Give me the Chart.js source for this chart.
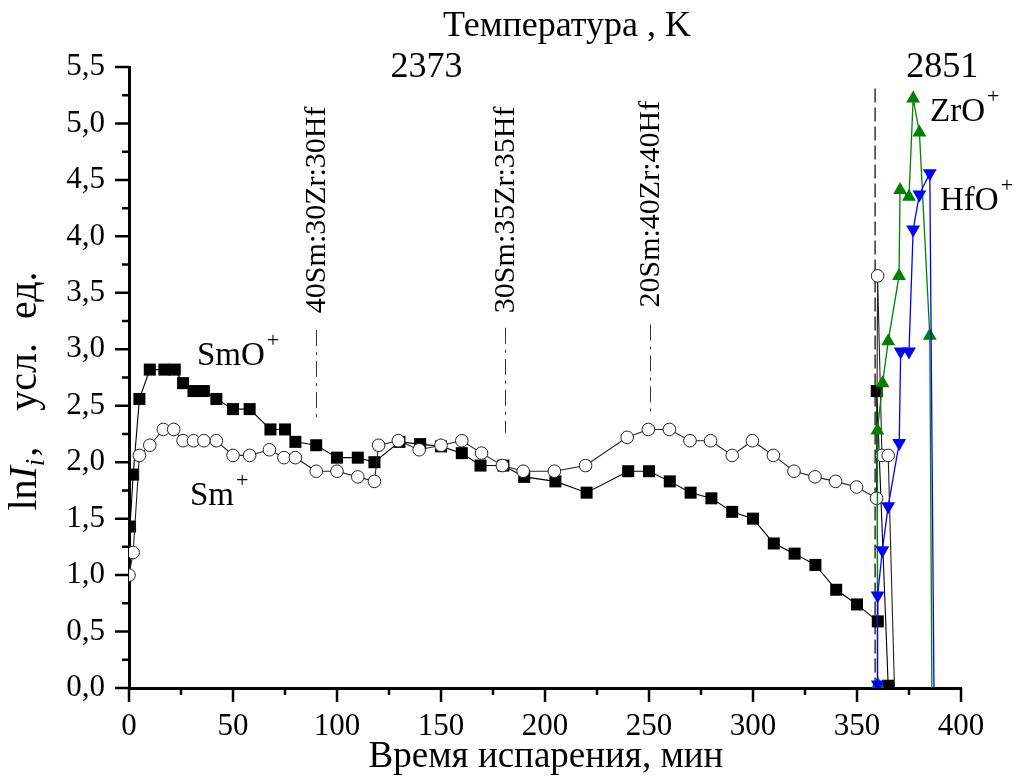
<!DOCTYPE html>
<html>
<head>
<meta charset="utf-8">
<script src="https://cdn.jsdelivr.net/npm/chart.js@4.4.1/dist/chart.umd.min.js"></script>
<style>
  html, body { margin: 0; padding: 0; background: #fff; }
  canvas { display: block; }
</style>
</head>
<body>
<canvas id="c" width="1016" height="776"></canvas>
<script>
// SmO+ ion current, ln I (filled squares)
const smoTime = [0.5, 2, 5, 10, 17, 22, 26, 31, 36, 42, 50, 58, 68, 75, 80, 90, 100, 110, 118, 130,
                 140, 150, 160, 169, 180, 190, 205, 220, 240, 250, 260, 270, 280, 290, 300, 310, 320, 330, 340, 350,
                 360, 359.5, 365];
const smoLn   = [1.43, 1.89, 2.56, 2.82, 2.82, 2.82, 2.70, 2.63, 2.63, 2.56, 2.47, 2.47, 2.29, 2.29, 2.18, 2.15, 2.04, 2.04, 2.00, 2.18,
                 2.16, 2.14, 2.08, 1.97, 1.97, 1.87, 1.83, 1.73, 1.92, 1.92, 1.83, 1.73, 1.68, 1.56, 1.50, 1.28, 1.19, 1.09, 0.87, 0.74,
                 0.59, 2.63, 0.02];

// Sm+ ion current, ln I (open circles)
const smTime = [0, 2, 5, 10, 16.5, 21.5, 26, 31, 36, 42, 50, 58, 67.5, 74.5, 80, 90, 100, 110, 118, 120,
                129.5, 139.5, 150, 160, 169.5, 179.5, 189.5, 204.5, 219.5, 239.5, 249.7, 259.8, 269.7, 279.6, 290, 299.7, 309.8, 319.7, 329.8, 339.7,
                349.8, 359.4, 359.9, 362, 365, 368];
const smLn   = [1.00, 1.20, 2.06, 2.15, 2.29, 2.29, 2.19, 2.19, 2.19, 2.19, 2.06, 2.06, 2.11, 2.04, 2.04, 1.92, 1.92, 1.87, 1.83, 2.15,
                2.19, 2.11, 2.15, 2.19, 2.08, 1.97, 1.92, 1.92, 1.97, 2.22, 2.29, 2.29, 2.19, 2.19, 2.06, 2.19, 2.06, 1.92, 1.87, 1.83,
                1.78, 1.68, 3.65, 2.06, 2.06, 0];

// ZrO+ ion current, ln I (green up-triangles)
const zroTime = [360, 359.8, 362.3, 365, 370.2, 370.7, 375, 377, 380, 385, 386];
const zroLn   = [0.03, 2.28, 2.70, 3.07, 3.65, 4.41, 4.35, 5.22, 4.92, 3.12, 0];

// HfO+ ion current, ln I (blue down-triangles)
const hfoTime = [360, 359.9, 362.2, 365, 370.3, 371, 375, 377, 380, 385, 387];
const hfoLn   = [0.03, 0.82, 1.22, 1.61, 2.17, 2.98, 2.98, 4.06, 4.37, 4.56, 0];

// Sample compositions and the times where each one starts evaporating
const compLabels = ['40Sm:30Zr:30Hf', '30Sm:35Zr:35Hf', '20Sm:40Zr:40Hf'];
const compTimes  = [90, 181, 250.5];
const compLineTop    = [3.17, 3.19, 3.22];
const compLineBottom = [2.36, 2.26, 2.44];
const compLabelStart = [3.32, 3.32, 3.37];

// Temperature stages, K
const tempLabels = ['2373', '2851'];
const tempTimes  = [143, 391];

// Moment of the temperature jump
const switchTime = 358.7;
const switchTop  = 5.31;

// Ion names placed next to the curves
const ionNames = ['SmO', 'Sm', 'ZrO', 'HfO'];
const ionTime  = [32.7, 29.3, 385.1, 389.9];
const ionLn    = [2.86, 1.62, 5.02, 4.23];

// Axis ranges and ticks
const xMin = 0, xMax = 400, xMajor = 50, xMinor = 25;
const yMin = 0, yMax = 5.5, yMajor = 0.5, yMinor = 0.25;

const SERIF = 'Liberation Serif';
Chart.defaults.font.family = SERIF;
Chart.defaults.color = '#000';

function pairs(xs, ys) { return xs.map((x, i) => ({ x, y: ys[i] })); }
function hideZero(r) { return ctx => (ctx.raw && ctx.raw.y <= 0 ? 0 : r); }
function fontOf(size, italic) { return (italic ? 'italic ' : '') + size + 'px "' + SERIF + '"'; }

function drawRich(ctx, parts, x, y, align) {
  let total = 0;
  parts.forEach(p => {
    ctx.font = fontOf(p.size, p.italic);
    p.w = ctx.measureText(p.t).width;
    total += p.w + (p.gap || 0);
  });
  let cx = align === 'center' ? x - total / 2 : x;
  parts.forEach(p => {
    ctx.font = fontOf(p.size, p.italic);
    cx += (p.gap || 0);
    ctx.fillText(p.t, cx, y + (p.dy || 0));
    cx += p.w;
  });
}

const decor = {
  id: 'decor',
  beforeDatasetsDraw(chart) {
    const { ctx, scales: { x, y } } = chart;
    ctx.save();
    // dashed line at the temperature jump
    ctx.strokeStyle = '#000';
    ctx.lineWidth = 1.2;
    ctx.setLineDash([14, 5]);
    ctx.beginPath();
    ctx.moveTo(x.getPixelForValue(switchTime), y.getPixelForValue(switchTop));
    ctx.lineTo(x.getPixelForValue(switchTime), y.getPixelForValue(0));
    ctx.stroke();
    // dash-dot pointers under the composition labels
    ctx.strokeStyle = '#333';
    ctx.lineWidth = 1;
    ctx.setLineDash([16, 6, 3, 6]);
    compTimes.forEach((t, i) => {
      const px = Math.round(x.getPixelForValue(t)) + 0.5;
      ctx.beginPath();
      ctx.moveTo(px, y.getPixelForValue(compLineTop[i]));
      ctx.lineTo(px, y.getPixelForValue(compLineBottom[i]));
      ctx.stroke();
    });
    ctx.restore();
  },
  afterDraw(chart) {
    const { ctx, chartArea: area, scales: { x, y } } = chart;
    ctx.save();
    ctx.strokeStyle = '#000';
    ctx.fillStyle = '#000';
    ctx.lineWidth = 2.5;
    ctx.setLineDash([]);
    // outward major / minor tick marks
    ctx.beginPath();
    for (let v = xMin; v <= xMax + 1e-9; v += xMinor) {
      const px = x.getPixelForValue(v);
      const len = Math.abs(v % xMajor) < 1e-9 ? 14 : 7;
      ctx.moveTo(px, area.bottom);
      ctx.lineTo(px, area.bottom + len);
    }
    for (let v = yMin; v <= yMax + 1e-9; v += yMinor) {
      const py = y.getPixelForValue(v);
      const len = Math.abs((v / yMajor) - Math.round(v / yMajor)) < 1e-9 ? 14 : 7;
      ctx.moveTo(area.left, py);
      ctx.lineTo(area.left - len, py);
    }
    ctx.stroke();

    // composition labels, rotated
    ctx.font = fontOf(30);
    ctx.textAlign = 'left';
    ctx.textBaseline = 'middle';
    compLabels.forEach((s, i) => {
      ctx.save();
      ctx.translate(x.getPixelForValue(compTimes[i]), y.getPixelForValue(compLabelStart[i]));
      ctx.rotate(-Math.PI / 2);
      ctx.fillText(s, 0, 1);
      ctx.restore();
    });

    // temperature stage values
    ctx.font = fontOf(36);
    ctx.textAlign = 'center';
    ctx.textBaseline = 'alphabetic';
    tempLabels.forEach((s, i) => {
      ctx.fillText(s, x.getPixelForValue(tempTimes[i]), area.top + 10);
    });

    // ion names with a superscript plus
    ctx.textAlign = 'left';
    ionNames.forEach((s, i) => {
      drawRich(ctx, [
        { t: s, size: 33 },
        { t: '+', size: 22, dy: -18, gap: 2 }
      ], x.getPixelForValue(ionTime[i]), y.getPixelForValue(ionLn[i]), 'left');
    });

    // top title
    ctx.font = fontOf(36);
    ctx.textAlign = 'center';
    ctx.fillText('Температура , K', 567, 36);

    // bottom title
    ctx.font = fontOf(37);
    ctx.fillText('Время испарения, мин', 546, 767);

    // left title, rotated
    ctx.save();
    ctx.translate(36, 391);
    ctx.rotate(-Math.PI / 2);
    ctx.textAlign = 'left';
    drawRich(ctx, [
      { t: 'ln', size: 40 },
      { t: 'I', size: 40, italic: true },
      { t: 'i', size: 27, italic: true, dy: 8 },
      { t: ',', size: 40, gap: 2 },
      { t: 'усл.', size: 40, gap: 36 },
      { t: 'ед.', size: 40, gap: 24 }
    ], 0, 0, 'center');
    ctx.restore();

    ctx.restore();
  }
};

new Chart(document.getElementById('c'), {
  type: 'line',
  data: {
    datasets: [
      {
        label: 'HfO+',
        data: pairs(hfoTime, hfoLn),
        borderColor: '#0000ff',
        backgroundColor: '#0000ff',
        borderWidth: 1.3,
        pointStyle: 'triangle',
        rotation: 180,
        pointRadius: hideZero(8),
        pointBorderWidth: 0,
        order: 0
      },
      {
        label: 'ZrO+',
        data: pairs(zroTime, zroLn),
        borderColor: '#008000',
        backgroundColor: '#008000',
        borderWidth: 1.3,
        pointStyle: 'triangle',
        pointRadius: hideZero(8),
        pointBorderWidth: 0,
        order: 1
      },
      {
        label: 'Sm+',
        data: pairs(smTime, smLn),
        borderColor: '#222',
        backgroundColor: '#fff',
        borderWidth: 1.1,
        pointStyle: 'circle',
        pointRadius: hideZero(6.3),
        pointBorderColor: '#222',
        pointBackgroundColor: '#fff',
        pointBorderWidth: 1,
        order: 2
      },
      {
        label: 'SmO+',
        data: pairs(smoTime, smoLn),
        borderColor: '#000',
        backgroundColor: '#000',
        borderWidth: 1.1,
        pointStyle: 'rect',
        pointRadius: hideZero(8.5),
        pointBorderWidth: 0,
        order: 3
      }
    ]
  },
  options: {
    responsive: false,
    animation: false,
    devicePixelRatio: 1,
    layout: { padding: { top: 67, right: 55, left: 0, bottom: 0 } },
    elements: { line: { tension: 0, fill: false } },
    plugins: { legend: { display: false }, tooltip: { enabled: false } },
    events: [],
    scales: {
      x: {
        type: 'linear',
        min: xMin, max: xMax,
        grid: { display: false, drawTicks: false },
        border: { display: true, color: '#000', width: 3 },
        ticks: {
          stepSize: xMajor, autoSkip: false, maxRotation: 0,
          color: '#000', padding: 20,
          font: { family: SERIF, size: 31 }
        },
        afterFit(s) { s.height = 88; }
      },
      y: {
        type: 'linear',
        min: yMin, max: yMax,
        grid: { display: false, drawTicks: false },
        border: { display: true, color: '#000', width: 3 },
        ticks: {
          stepSize: yMajor, autoSkip: false,
          color: '#000', padding: 24,
          font: { family: SERIF, size: 31 },
          callback: v => Number(v).toFixed(1).replace('.', ',')
        },
        afterFit(s) { s.width = 129; }
      }
    }
  },
  plugins: [decor]
});
</script>
</body>
</html>
